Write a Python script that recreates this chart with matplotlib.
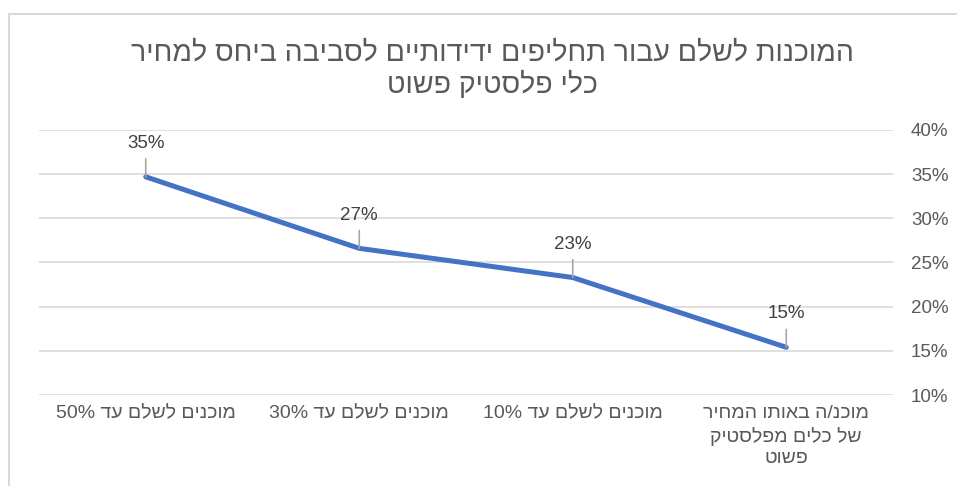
import re
import matplotlib
matplotlib.use('Agg')
from matplotlib import pyplot as plt
from matplotlib.patches import Rectangle
from matplotlib.ticker import FuncFormatter

plt.rcParams['font.family'] = ['Liberation Sans', 'DejaVu Sans']

# data (logical order, right-to-left chart)
categories = ['מוכנ/ה באותו המחיר\nשל כלים מפלסטיק\nפשוט',
              'מוכנים לשלם עד 10%',
              'מוכנים לשלם עד 30%',
              'מוכנים לשלם עד 50%']
values = [0.154, 0.233, 0.266, 0.347]
yticks = [0.10, 0.15, 0.20, 0.25, 0.30, 0.35, 0.40]
title = 'המוכנות לשלם עבור תחליפים ידידותיים לסביבה ביחס למחיר\nכלי פלסטיק פשוט'


def rtl(s):
    # matplotlib has no bidi support: put hebrew into visual order by hand
    out = []
    for line in s.split('\n'):
        rev = line[::-1]
        rev = re.sub(r'[0-9%]+', lambda m: m.group(0)[::-1], rev)
        out.append(rev)
    return '\n'.join(out)


fig = plt.figure(figsize=(9.57, 4.86), dpi=100)
W, H = 957, 486
fig.patches.append(Rectangle((9 / W, -0.1), 1.0, (H - 14) / H + 0.1,
                             transform=fig.transFigure, fill=False,
                             edgecolor='#D9D9D9', linewidth=1.5))

ax = fig.add_axes([39 / W, (H - 395) / H, (893 - 39) / W, (395 - 130) / H])
x = list(range(len(categories)))
ax.plot(x, values, color='#4472C4', linewidth=3.6, solid_capstyle='round',
        solid_joinstyle='round', zorder=3)

for xi, v in zip(x, values):
    ax.annotate('%d%%' % round(v * 100), xy=(xi, v), xytext=(0, 24),
                textcoords='offset points', ha='center', va='center',
                fontsize=13.5, color='#404040',
                arrowprops=dict(arrowstyle='-', color='#A6A6A6', lw=1.2,
                                shrinkA=3, shrinkB=0))

ax.set_xlim(-0.5, len(categories) - 0.5)
ax.invert_xaxis()
ax.set_ylim(0.10, 0.40)
ax.set_yticks(yticks)
ax.yaxis.set_major_formatter(FuncFormatter(lambda v, p: '%d%%' % round(v * 100)))
ax.yaxis.tick_right()
ax.set_xticks(x)
ax.set_xticklabels([rtl(c) for c in categories], fontsize=14, color='#595959',
                   linespacing=1.35, va='top')
ax.tick_params(axis='x', length=0, pad=7)
ax.tick_params(axis='y', length=0, pad=13, labelsize=13.5, labelcolor='#595959')
ax.grid(axis='y', color='#D9D9D9', linewidth=1.2)
ax.set_axisbelow(True)
for s in ax.spines.values():
    s.set_visible(False)

fig.text(492 / W, 1 - 70 / H, rtl(title), ha='center', va='center',
         fontsize=20.5, color='#595959', linespacing=1.2)

fig.savefig('out.png', dpi=100)
